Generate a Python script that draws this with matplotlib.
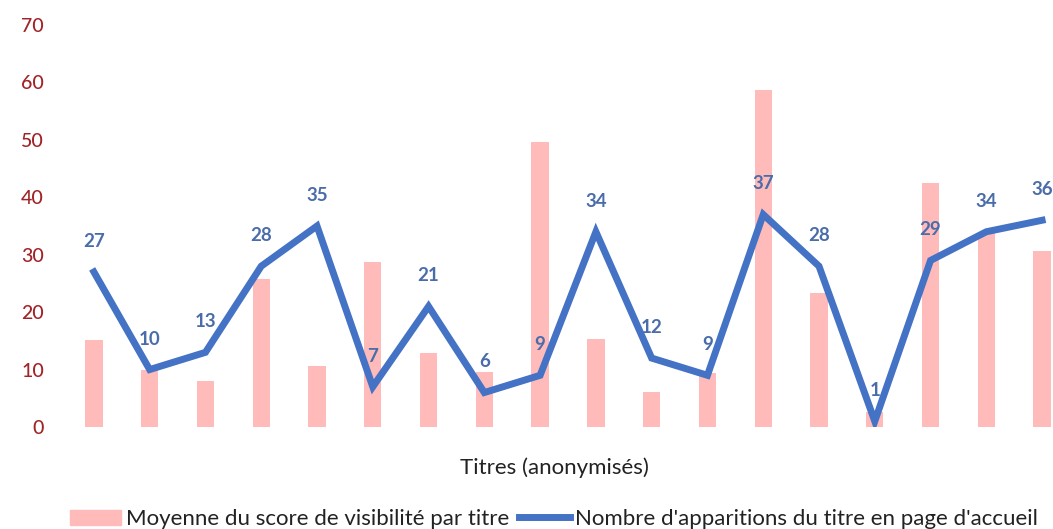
import matplotlib.pyplot as plt
import numpy as np
from matplotlib.patches import Patch
from matplotlib.lines import Line2D

plt.rcParams['font.family'] = ['Lato', 'DejaVu Sans']

# 18 anonymised titles
titres = [str(i) for i in range(1, 19)]
visibilite = [15.2, 10, 8, 25.8, 10.6, 28.7, 12.9, 9.5, 49.7, 15.3,
              6.1, 9.4, 58.7, 23.4, 2.6, 42.5, 33.8, 30.7]
apparitions = [27, 10, 13, 28, 35, 7, 21, 6, 9, 34, 12, 9, 37, 28, 1, 29, 34, 36]
y_ticks = [0, 10, 20, 30, 40, 50, 60, 70]

bar_color = '#FFBABA'
line_color = '#4472C4'
tick_color = '#A02428'
label_color = '#4A6DAA'

fig = plt.figure(figsize=(10.53, 5.29), dpi=100)
# axes runs a bit past the right edge, like the cropped original
ax = fig.add_axes([66 / 1053, 102 / 529, 1004 / 1053, 402 / 529])

x = np.arange(len(titres))
ax.bar(x, visibilite, width=0.31, color=bar_color, zorder=1)
ax.plot(x, apparitions, color=line_color, linewidth=5, solid_joinstyle='miter', zorder=2)

for xi, v in zip(x, apparitions):
    ax.annotate(str(v), (xi, v), xytext=(0, 22), textcoords='offset points',
                ha='center', va='center', fontsize=13.5, fontweight='bold',
                color=label_color, zorder=3)

ax.set_xlim(-0.5, len(titres) - 0.5)
ax.set_ylim(0, 70)
ax.set_yticks(y_ticks)
ax.set_xticks([])
ax.tick_params(axis='y', length=0, pad=16, labelsize=14, labelcolor=tick_color)
for lbl in ax.get_yticklabels():
    lbl.set_fontweight('medium')
for s in ax.spines.values():
    s.set_visible(False)

fig.text(554 / 1053, 1 - 468 / 529, 'Titres (anonymisés)', ha='center', va='center',
         fontsize=16, color='#222222')

handles = [Patch(color=bar_color), Line2D([0], [0], color=line_color, linewidth=5)]
names = ['Moyenne du score de visibilité par titre',
         "Nombre d'apparitions du titre en page d'accueil"]
fig.legend(handles, names, loc='center', bbox_to_anchor=(554 / 1053, 1 - 519 / 529),
           ncol=2, frameon=False, fontsize=16, handlelength=2.3, handleheight=0.65,
           handletextpad=0.2, columnspacing=0.45, labelcolor='#222222')

fig.savefig('out.png', dpi=100)
